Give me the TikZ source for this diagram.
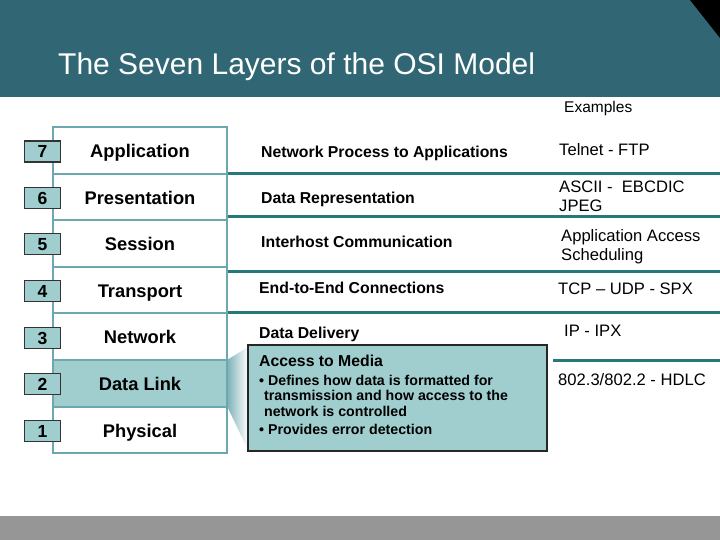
\documentclass[tikz,border=0pt]{standalone}
\usepackage{fontspec}
\setmainfont{Liberation Sans}
\definecolor{hdr}{RGB}{49,103,116}
\definecolor{tealline}{RGB}{38,120,122}
\definecolor{lteal}{RGB}{160,206,206}
\definecolor{stackc}{RGB}{108,168,174}
\definecolor{barg}{RGB}{150,150,150}
\tikzset{
  rowbox/.style={draw=stackc, line width=2pt, minimum width=174pt, minimum height=46.6pt, inner sep=0pt, text height=14.3pt, text depth=0pt, font=\fontsize{18.3}{20}\selectfont\bfseries},
  numbox/.style={draw=black!80, line width=1.5pt, fill=lteal, minimum width=36pt, minimum height=21pt, inner sep=0pt, text height=12.6pt, text depth=0pt, font=\fontsize{17.5}{19}\selectfont\bfseries},
  midtxt/.style={anchor=west, inner sep=0pt, font=\fontsize{15.8}{17}\selectfont\bfseries},
  extxt/.style={anchor=north west, inner sep=0pt, align=left, font=\fontsize{16.6}{19}\selectfont},
  sep/.style={draw=tealline, line width=3pt}
}
\begin{document}
\begin{tikzpicture}[x=1pt,y=-1pt]
\path[use as bounding box] (0,0) rectangle (720,540);
% header
\fill[hdr] (0,0) rectangle (720,97);
\fill[black] (690,0) -- (720,0) -- (720,38) -- cycle;
\node[anchor=base west, inner sep=0pt, text=white, font=\fontsize{30}{32}\selectfont] (title) at (58,75) {The Seven Layers of the OSI Model};
% bottom bar
\fill[barg] (0,516) rectangle (720,540);
% separators
\foreach \yy in {173.5,217,271,312}{\draw[sep] (227,\yy) -- (720,\yy);}
\draw[sep] (553,360) -- (720,360);
% callout shading
\shade[left color=stackc!90, right color=white] (227,360) -- (248,347) -- (248,450) -- (227,406) -- cycle;
% stack
\node[rowbox] (r7) at (140,150.3) {Application};
\node[rowbox] (r6) at (140,196.9) {Presentation};
\node[rowbox] (r5) at (140,243.5) {Session};
\node[rowbox] (r4) at (140,290.1) {Transport};
\node[rowbox] (r3) at (140,336.7) {Network};
\node[rowbox, fill=lteal] (r2) at (140,383.3) {Data Link};
\node[rowbox] (r1) at (140,429.9) {Physical};
\node[numbox] (n7) at (42.5,151.5) {7};
\node[numbox] (n6) at (42.5,198) {6};
\node[numbox] (n5) at (42.5,244) {5};
\node[numbox] (n4) at (42.5,291) {4};
\node[numbox] (n3) at (42.5,338) {3};
\node[numbox] (n2) at (42.5,384) {2};
\node[numbox] (n1) at (42.5,431) {1};
% middle column
\node[midtxt] (m7) at (261,153) {Network Process to Applications};
\node[midtxt] (m6) at (261,199) {Data Representation};
\node[midtxt] (m5) at (261,242) {Interhost Communication};
\node[midtxt] (m4) at (259,288) {End-to-End Connections};
\node[midtxt] (m3) at (259,334) {Data Delivery};
% access box
\draw[fill=lteal, draw=black!85, line width=1.3pt] (248,345) rectangle (547,451);
\node[anchor=north west, inner sep=0pt, align=left, font=\fontsize{15.8}{17}\selectfont\bfseries] (acc) at (259,355) {Access to Media};
\node[anchor=north west, inner sep=0pt, align=left, font=\fontsize{14.2}{15.3}\selectfont\bfseries] (bul) at (259,375)
  {\textbullet\ Defines how data is formatted for\\
   \phantom{\textbullet}transmission and how access to the\\
   \phantom{\textbullet}network is controlled\\[2.8pt]
   \textbullet\ Provides error detection};
% examples
\node[extxt, font=\fontsize{15.5}{18}\selectfont] (ex) at (564,101) {Examples};
\node[extxt] (e7) at (559,143) {Telnet - FTP};
\node[extxt] (e6) at (559,181) {ASCII -\ \ EBCDIC\\JPEG};
\node[extxt] (e5) at (561,229) {Application Access\\Scheduling};
\node[extxt] (e4) at (558,283) {TCP – UDP - SPX};
\node[extxt] (e3) at (564,325) {IP - IPX};
\node[extxt] (e2) at (558,373) {802.3/802.2 - HDLC};
\end{tikzpicture}
\end{document}
